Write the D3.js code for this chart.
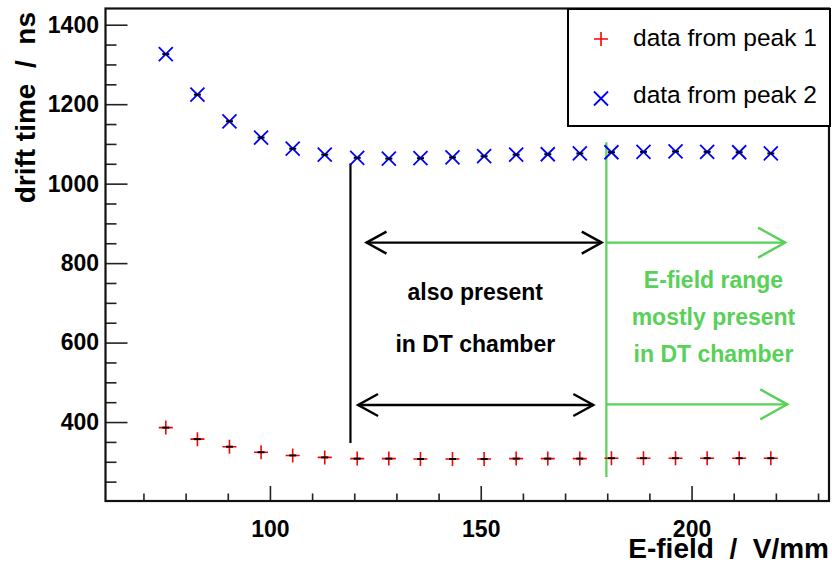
<!DOCTYPE html>
<html><head><meta charset="utf-8">
<script src="https://cdn.jsdelivr.net/npm/d3@7"></script>
<style>
body{margin:0;background:#fff}
svg{display:block}
text{font-family:"Liberation Sans",Arial,Helvetica,sans-serif}
</style>
</head><body>
<svg id="c" width="832" height="563"></svg>
<script>
// ---- data ----
const efield = [75.3, 82.8, 90.4, 97.9, 105.4, 113.0, 120.7, 128.2, 135.7, 143.3, 150.8, 158.4, 165.9, 173.5, 181.0, 188.6, 196.2, 203.7, 211.3, 218.8];
const peak1  = [386, 357, 338, 324, 316, 311, 308, 308, 307, 307, 307, 308, 308, 308, 309, 309, 309, 309, 309, 309];
const peak2  = [1326, 1224, 1157, 1116, 1088, 1073, 1065, 1063, 1064, 1066, 1069, 1073, 1074, 1076, 1079, 1080, 1081, 1080, 1079, 1076];
const xMajor = [100, 150, 200];
const xMinor = [70, 80, 90, 110, 120, 130, 140, 160, 170, 180, 190, 210, 220, 230];
const yMajor = [400, 600, 800, 1000, 1200, 1400];
const yMinor = [250, 300, 350, 450, 500, 550, 650, 700, 750, 850, 900, 950, 1050, 1100, 1150, 1250, 1300, 1350];
const legendLabels = ["data from peak 1", "data from peak 2"];
const xTitle = "E-field  /  V/mm";
const yTitle = "drift time  /  ns";
const blackNote = ["also present", "in DT chamber"];
const greenNote = ["E-field range", "mostly present", "in DT chamber"];

const svg = d3.select("#c");
const L = 105.5, R = 829, T = 8.5, B = 501;
const x = d3.scaleLinear().domain([61, 232.6]).range([L, R]);
const y = d3.scaleLinear().domain([201.3, 1440.8]).range([B, T]);
const GREEN = "#57d157";
const FONT = '"Liberation Sans",Arial,sans-serif';

// axes
const gx = svg.append("g").attr("transform", `translate(0,${B})`)
  .call(d3.axisBottom(x).tickValues(xMajor).tickSizeInner(-15).tickSizeOuter(0).tickPadding(19.5).tickFormat(d3.format("d")));
const gxm = svg.append("g").attr("transform", `translate(0,${B})`)
  .call(d3.axisBottom(x).tickValues(xMinor).tickSizeInner(-7.5).tickSizeOuter(0).tickFormat(""));
const gy = svg.append("g").attr("transform", `translate(${L},0)`)
  .call(d3.axisLeft(y).tickValues(yMajor).tickSizeInner(-22).tickSizeOuter(0).tickPadding(6.5).tickFormat(d3.format("d")));
const gym = svg.append("g").attr("transform", `translate(${L},0)`)
  .call(d3.axisLeft(y).tickValues(yMinor).tickSizeInner(-11).tickSizeOuter(0).tickFormat(""));
[gx, gxm, gy, gym].forEach(g => {
  g.attr("font-size", null).attr("font-family", null);
  g.select(".domain").remove();
  g.selectAll(".tick line").attr("stroke", "#222").attr("stroke-width", 1.6);
  g.selectAll("text").attr("fill", "#000")
    .style("font-size", "23px").style("font-weight", "bold").style("font-family", FONT);
});

// frame
svg.append("rect").attr("x", L).attr("y", T).attr("width", R - L).attr("height", B - T)
  .attr("fill", "none").attr("stroke", "#111").attr("stroke-width", 2.2);

// titles
svg.append("text").attr("x", R).attr("y", 558).attr("text-anchor", "end")
  .style("font-size", "28px").style("font-weight", "bold").style("white-space", "pre").text(xTitle);
svg.append("text").attr("transform", "translate(35,12) rotate(-90)").attr("text-anchor", "end")
  .style("font-size", "28px").style("font-weight", "bold").style("white-space", "pre").text(yTitle);

// annotations (data coordinates)
function arrowHead(g, xp, yp, dir, len, half, color) {
  g.append("path").attr("d", `M${xp - dir * len},${yp - half}L${xp},${yp}L${xp - dir * len},${yp + half}`)
    .attr("fill", "none").attr("stroke", color).attr("stroke-width", 2.4);
}
const ann = svg.append("g");
ann.append("line").attr("x1", x(119.1)).attr("x2", x(119.1)).attr("y1", y(1051)).attr("y2", y(347))
  .attr("stroke", "#000").attr("stroke-width", 2.2);
ann.append("line").attr("x1", x(179.8)).attr("x2", x(179.8)).attr("y1", y(1104)).attr("y2", y(262))
  .attr("stroke", GREEN).attr("stroke-width", 2.2);
// black double arrows
[[122.9, 178.7, 851.6], [120.9, 176.7, 442.8]].forEach(([a, b, v]) => {
  ann.append("line").attr("x1", x(a)).attr("x2", x(b)).attr("y1", y(v)).attr("y2", y(v))
    .attr("stroke", "#000").attr("stroke-width", 2.4);
  arrowHead(ann, x(a), y(v), -1, 20, 11, "#000");
  arrowHead(ann, x(b), y(v), 1, 20, 11, "#000");
});
// green arrows
[[179.8, 222.2, 851.6], [179.8, 222.7, 444.5]].forEach(([a, b, v]) => {
  ann.append("line").attr("x1", x(a)).attr("x2", x(b)).attr("y1", y(v)).attr("y2", y(v))
    .attr("stroke", GREEN).attr("stroke-width", 2.4);
  arrowHead(ann, x(b), y(v), 1, 27, 15, GREEN);
});
const bY = [706, 576];
blackNote.forEach((t, i) => ann.append("text").attr("x", x(148.7)).attr("y", y(bY[i]))
  .attr("text-anchor", "middle").style("font-size", "23px").style("font-weight", "bold").attr("fill", "#000").text(t));
const gY = [738, 643.5, 552];
greenNote.forEach((t, i) => ann.append("text").attr("x", x(205.2)).attr("y", y(gY[i]))
  .attr("text-anchor", "middle").style("font-size", "23px").style("font-weight", "bold").attr("fill", GREEN).text(t));

// markers
const plus = (g, cx, cy, s, c) => g.append("path").attr("d", `M${cx - s},${cy}H${cx + s}M${cx},${cy - s}V${cy + s}`)
  .attr("stroke", c).attr("stroke-width", 1.6).attr("fill", "none");
const cross = (g, cx, cy, s, c) => g.append("path").attr("d", `M${cx - s},${cy - s}L${cx + s},${cy + s}M${cx - s},${cy + s}L${cx + s},${cy - s}`)
  .attr("stroke", c).attr("stroke-width", 1.8).attr("fill", "none");
const errTick = (g, cx, cy) => g.append("path").attr("d", `M${cx - 3.5},${cy}H${cx + 3.5}`)
  .attr("stroke", "#000").attr("stroke-width", 2);

const pts = svg.append("g");
efield.forEach((e, i) => {
  plus(pts, x(e), y(peak1[i]), 7, "#ff0000");
  errTick(pts, x(e), y(peak1[i]));
  cross(pts, x(e), y(peak2[i]), 7, "#0000ff");
  errTick(pts, x(e), y(peak2[i]));
});

// legend
const lg = svg.append("g");
lg.append("rect").attr("x", 568).attr("y", 9).attr("width", 262).attr("height", 117)
  .attr("fill", "#fff").attr("stroke", "#000").attr("stroke-width", 2);
plus(lg, 601, 39, 7, "#ff0000");
cross(lg, 601, 98.5, 7, "#0000ff");
legendLabels.forEach((t, i) => lg.append("text").attr("x", 633).attr("y", [45.7, 103.3][i])
  .style("font-size", "24.5px").attr("fill", "#000").text(t));
</script>
</body></html>
